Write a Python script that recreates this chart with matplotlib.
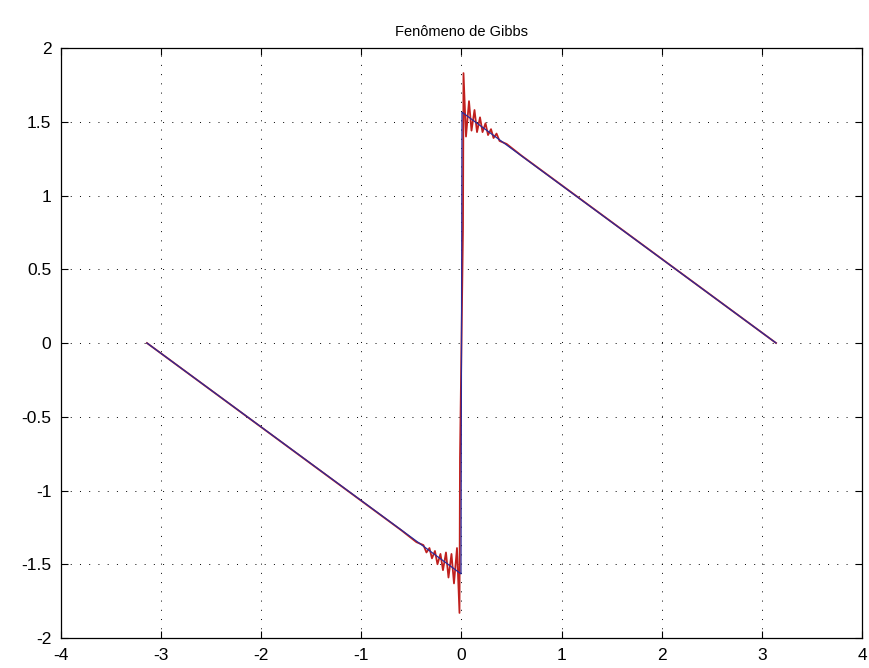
import matplotlib
matplotlib.use("Agg")
import matplotlib.pyplot as plt

# values
# red curve: partial Fourier sum with visible Gibbs wiggles
red_x = [-3.1416, -0.60, -0.45, -0.38, -0.35, -0.32, -0.295, -0.265, -0.24, -0.21,
         -0.185, -0.155, -0.13, -0.10, -0.075, -0.045, -0.02, -0.015, 0.0,
         0.015, 0.02, 0.045, 0.075, 0.10, 0.13, 0.155, 0.185, 0.21, 0.24, 0.265,
         0.295, 0.32, 0.35, 0.38, 0.45, 0.60, 3.1416]
red_y = [0.0, -1.27, -1.35, -1.37, -1.42, -1.39, -1.46, -1.41, -1.50, -1.43,
         -1.54, -1.42, -1.59, -1.43, -1.63, -1.39, -1.83, -0.78, 0.0,
         0.78, 1.83, 1.40, 1.64, 1.44, 1.58, 1.43, 1.53, 1.43, 1.49, 1.41,
         1.45, 1.39, 1.42, 1.37, 1.35, 1.27, 0.0]

# blue curve: finer sum, jumps straight through zero
blue_x = [-3.1416, -0.005, 0.0, 0.005, 3.1416]
blue_y = [0.0, -1.565, 0.0, 1.565, 0.0]

xticks = [-4, -3, -2, -1, 0, 1, 2, 3, 4]
yticks = [-2, -1.5, -1, -0.5, 0, 0.5, 1, 1.5, 2]
title = "Fenômeno de Gibbs"

plt.rcParams['font.family'] = ['Liberation Sans', 'DejaVu Sans']

fig = plt.figure(figsize=(8.7, 6.68), dpi=100)
ax = fig.add_axes([0.0701, 0.0449, 0.9207, 0.8832])

ax.plot(red_x, red_y, color='#c0201e', lw=1.3)
ax.plot(blue_x, blue_y, color='#2a2a9a', lw=0.9)

ax.set_xlim(-4, 4)
ax.set_ylim(-2, 2)
ax.set_xticks(xticks)
ax.set_yticks(yticks)
ax.set_xticklabels([f"{t:g}" for t in xticks], fontsize=12.5)
ax.set_yticklabels([f"{t:g}" for t in yticks], fontsize=12.5)
ax.tick_params(direction='in', top=True, right=True, length=5, width=0.8,
               pad=7)
ax.grid(True, color='black', linestyle=(0, (1, 8.5)), linewidth=0.7)
for s in ax.spines.values():
    s.set_linewidth(0.9)
ax.set_title(title, fontsize=10.5, pad=9)

fig.savefig("out.png", dpi=100)
